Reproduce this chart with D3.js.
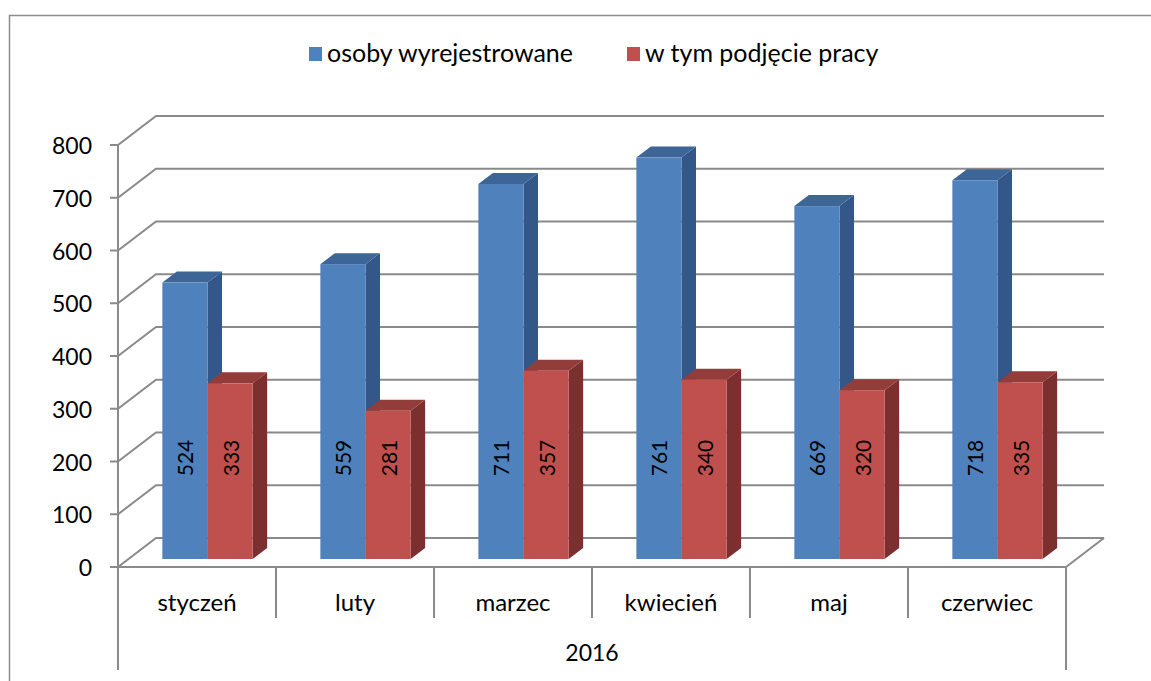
<!DOCTYPE html>
<html lang="pl">
<head>
<meta charset="utf-8">
<script src="https://cdn.jsdelivr.net/npm/d3@7"></script>
<style>
    html, body { margin:0; padding:0; overflow:hidden; background:#fff; }
    svg { font-family: Lato, "Open Sans", sans-serif; }
    .grid { fill:none; stroke:#8a8a8a; stroke-width:2; }
    .lbl { font-size:21px; fill:#000; }
</style>
</head>
<body>
<svg width="1151" height="681"></svg>
<script>
    var kategorie = ["styczeń", "luty", "marzec", "kwiecień", "maj", "czerwiec"];
    var serie = ["osoby wyrejestrowane", "w tym podjęcie pracy"];
    var wyrejestrowane = [524, 559, 711, 761, 669, 718];
    var podjeciePracy = [333, 281, 357, 340, 320, 335];
    var ticki = [0, 100, 200, 300, 400, 500, 600, 700, 800];
    var rok = "2016";

    var kolory = {
        front: ["#4F81BD", "#C0504D"],
        bok:   ["#34578A", "#7B302F"],
        gora:  ["#3D6596", "#933D3B"]
    };

    var svg = d3.select("svg");

    // ramka wykresu
    svg.append("rect")
        .attr("x", 9.5).attr("y", 15.5)
        .attr("width", 1200).attr("height", 700)
        .attr("fill", "none").attr("stroke", "#8c8c8c").attr("stroke-width", 1.5);

    var x0 = 118, x1 = 1066;
    var glX = 38, glY = -29;          // glebokosc sciany
    var p0 = {x: 10.5, y: -8};        // przod slupka
    var sl = {x: 14.5, y: -11};       // glebokosc slupka

    var y = d3.scaleLinear().domain([0, 800]).range([567, 145]);
    var x = d3.scaleBand().domain(kategorie).range([x0, x1]);
    var xs = d3.scaleBand().domain(serie).range([0, x.bandwidth()])
        .paddingInner(0).paddingOuter(0.75);

    // linie siatki
    svg.selectAll(".grid")
        .data(ticki)
        .enter().append("path")
        .attr("class", "grid")
        .attr("d", function (d) {
            var yy = y(d);
            return "M110," + yy + " L" + x0 + "," + yy + " L" + (x0 + glX) + "," + (yy + glY) +
                   " L" + (x1 + glX) + "," + (yy + glY);
        });

    svg.append("path").attr("class", "grid")
        .attr("d", "M" + x0 + "," + y(800) + " L" + x0 + "," + y(0));

    // podloga
    svg.append("path").attr("class", "grid")
        .attr("d", "M" + x0 + "," + y(0) + " L" + x1 + "," + y(0) + " L" + (x1 + glX) + "," + (y(0) + glY));

    // podzialki kategorii
    var granice = kategorie.map(function (k) { return x(k); }).concat([x1]);
    svg.selectAll(".podz")
        .data(granice)
        .enter().append("line")
        .attr("class", "grid")
        .attr("x1", function (d) { return d; })
        .attr("x2", function (d) { return d; })
        .attr("y1", y(0))
        .attr("y2", function (d, i) { return (i == 0 || i == granice.length - 1) ? 670 : 618; });

    // etykiety osi Y
    svg.selectAll(".tick")
        .data(ticki)
        .enter().append("text")
        .attr("class", "lbl")
        .style("font-size", "23px")
        .attr("x", 92)
        .attr("y", function (d) { return y(d); })
        .attr("text-anchor", "end")
        .attr("dominant-baseline", "central")
        .text(function (d) { return d; });

    // etykiety kategorii
    svg.selectAll(".kat")
        .data(kategorie)
        .enter().append("text")
        .attr("class", "lbl")
        .style("font-size", "24px")
        .attr("x", function (d) { return x(d) + x.bandwidth() / 2; })
        .attr("y", 611)
        .attr("text-anchor", "middle")
        .text(function (d) { return d; });

    svg.append("text")
        .attr("class", "lbl")
        .style("font-size", "23px")
        .attr("x", (x0 + x1) / 2)
        .attr("y", 661)
        .attr("text-anchor", "middle")
        .text(rok);

    // slupki
    var dane = [];
    kategorie.forEach(function (k, i) {
        dane.push({kat: k, s: 0, v: wyrejestrowane[i]});
        dane.push({kat: k, s: 1, v: podjeciePracy[i]});
    });

    var slupki = svg.selectAll(".slupek")
        .data(dane)
        .enter().append("g")
        .attr("class", "slupek");

    function geo(d) {
        var bx = x(d.kat) + xs(serie[d.s]) + p0.x;
        return {bx: bx, w: xs.bandwidth(), yt: y(d.v) + p0.y, yb: y(0) + p0.y};
    }

    slupki.append("path")
        .attr("fill", function (d) { return kolory.bok[d.s]; })
        .attr("d", function (d) {
            var g = geo(d), r = g.bx + g.w;
            return "M" + r + "," + g.yt + " L" + (r + sl.x) + "," + (g.yt + sl.y) +
                   " L" + (r + sl.x) + "," + (g.yb + sl.y) + " L" + r + "," + g.yb + "Z";
        });

    slupki.append("path")
        .attr("fill", function (d) { return kolory.gora[d.s]; })
        .attr("d", function (d) {
            var g = geo(d);
            return "M" + g.bx + "," + g.yt + " L" + (g.bx + sl.x) + "," + (g.yt + sl.y) +
                   " L" + (g.bx + g.w + sl.x) + "," + (g.yt + sl.y) + " L" + (g.bx + g.w) + "," + g.yt + "Z";
        });

    slupki.append("rect")
        .attr("fill", function (d) { return kolory.front[d.s]; })
        .attr("x", function (d) { return geo(d).bx; })
        .attr("y", function (d) { return geo(d).yt; })
        .attr("width", function (d) { return geo(d).w; })
        .attr("height", function (d) { var g = geo(d); return g.yb - g.yt; });

    slupki.append("text")
        .attr("class", "lbl")
        .attr("text-anchor", "middle")
        .attr("dominant-baseline", "central")
        .attr("transform", function (d) {
            var g = geo(d);
            return "translate(" + (g.bx + g.w / 2) + "," + (g.yb - 101) + ") rotate(-90)";
        })
        .text(function (d) { return d.v; });

    // legenda
    var leg = svg.selectAll(".leg")
        .data(serie)
        .enter().append("g")
        .attr("transform", function (d, i) { return "translate(" + [309, 627][i] + ",0)"; });

    leg.append("rect")
        .attr("x", 0).attr("y", 47)
        .attr("width", 13).attr("height", 14)
        .attr("fill", function (d, i) { return kolory.front[i]; });

    leg.append("text")
        .attr("class", "lbl")
        .style("font-size", "25px")
        .attr("x", 18)
        .attr("y", 62)
        .text(function (d) { return d; });
</script>
</body>
</html>
